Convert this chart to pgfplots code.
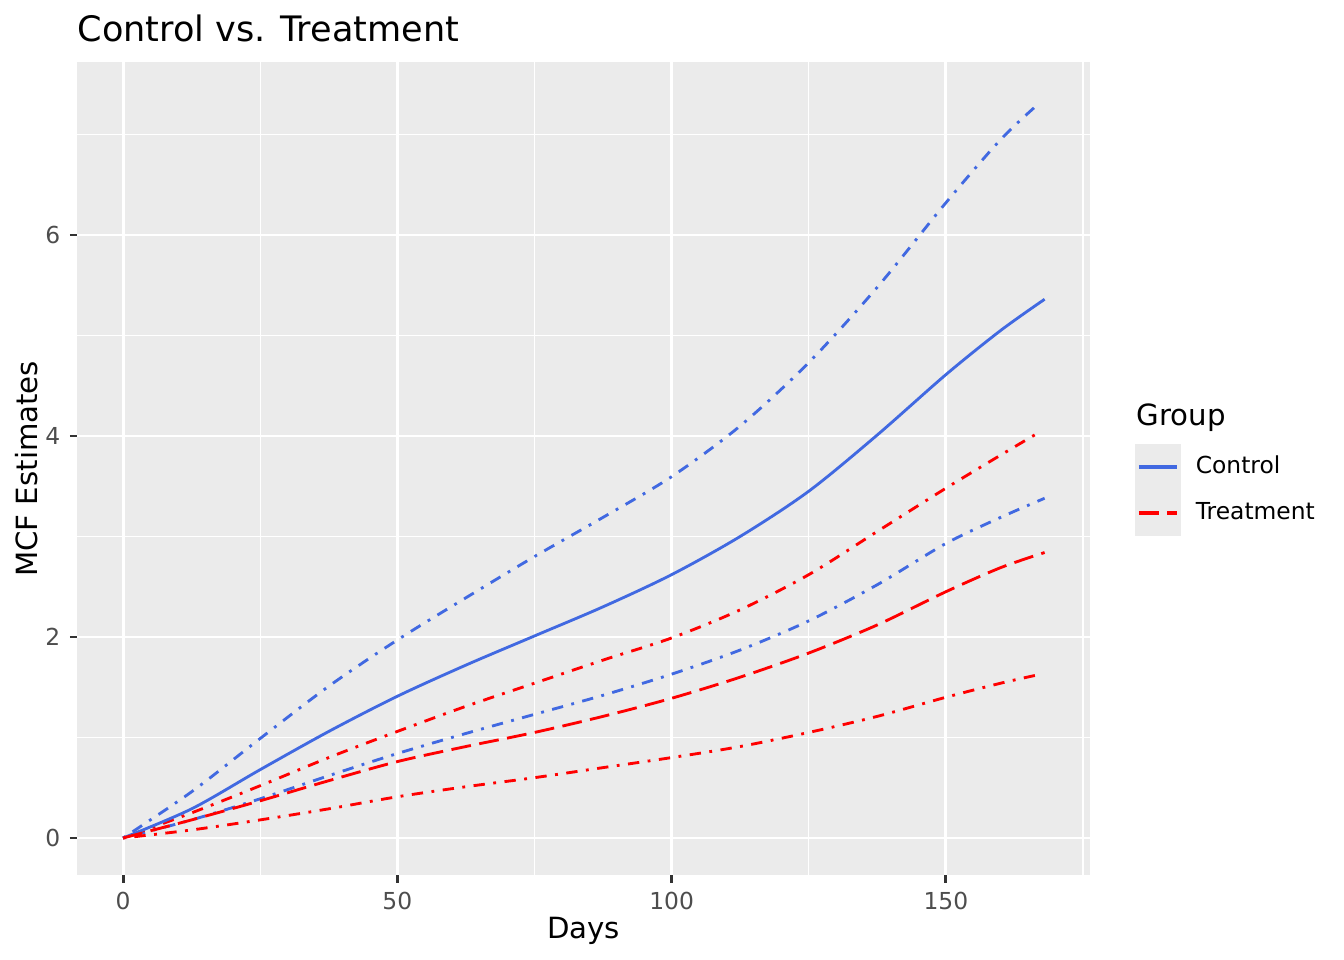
\documentclass[border=0pt]{standalone}
\usepackage{pgfplots}
\pgfplotsset{compat=1.18}
\usepackage{fontspec}
\setmainfont{DejaVu Sans}
\definecolor{ggbg}{HTML}{EBEBEB}
\definecolor{gray30}{HTML}{4D4D4D}
\definecolor{gray20}{HTML}{333333}
\definecolor{ctrl}{HTML}{4169E1}
\definecolor{trt}{HTML}{FF0000}
\tikzset{
  dotdash/.style={dash pattern=on 1.07pt off 3.2pt on 4.27pt off 3.2pt},
  longdash/.style={dash pattern=on 7.47pt off 3.2pt},
}
\begin{document}
\begin{tikzpicture}
\path[use as bounding box] (0,0) rectangle (504bp,360bp);
\begin{axis}[
  at={(28.9bp,31.7bp)}, anchor=south west,
  scale only axis, width=379.9bp, height=305.06bp,
  xmin=-8.39, xmax=176.3, ymin=-0.373, ymax=7.721,
  axis background/.style={fill=ggbg},
  axis line style={draw=none},
  xtick={0,50,100,150}, ytick={0,2,4,6},
  minor xtick={25,75,125,175}, minor ytick={1,3,5,7},
  xtick pos=bottom, ytick pos=left,
  tick align=outside, major tick length=2.75pt, minor tick length=0pt,
  major tick style={color=gray20, line width=1.07pt},
  grid=both,
  major grid style={color=white, line width=1.07pt},
  minor grid style={color=white, line width=0.53pt},
  tick label style={font=\fontsize{8.8}{10}\selectfont, color=gray30},
  /pgf/number format/assume math mode=true,
  legend style={at={(rel axis cs:1.0442,0.5304)}, anchor=north west, draw=none, fill=none,
    inner sep=0pt, outer sep=0pt, row sep=0pt, column sep=5.6bp,
    font=\fontsize{8.8}{10}\selectfont, nodes={inner sep=0pt}},
  legend cell align=left,
  legend image code/.code={
    \path[fill=ggbg, draw=none] (0,-8.625bp) rectangle (17.25bp,8.625bp);
    \path[draw, line width=1.4pt] (1.5bp,0) -- (15.75bp,0);
  },
]
% Control CI upper
\addplot[ctrl, line width=1.07pt, dotdash, smooth, forget plot] coordinates {
(0,0) (12.5,0.46) (25,0.99) (37.5,1.51) (50,1.97) (62.5,2.39) (75,2.80) (87.5,3.19)
(100,3.595) (112.5,4.10) (125,4.73) (137.5,5.48) (150,6.32) (160,6.95) (167,7.31)};
% Control CI lower
\addplot[ctrl, line width=1.07pt, dotdash, smooth, forget plot] coordinates {
(0,0) (12.5,0.18) (25,0.39) (37.5,0.62) (50,0.84) (62.5,1.04) (75,1.23) (87.5,1.42)
(100,1.63) (112.5,1.87) (125,2.16) (137.5,2.52) (150,2.93) (160,3.19) (168,3.38)};
% Treatment CI upper
\addplot[trt, line width=1.07pt, dotdash, smooth, forget plot] coordinates {
(0,0) (12.5,0.25) (25,0.52) (37.5,0.80) (50,1.06) (62.5,1.31) (75,1.54) (87.5,1.77)
(100,1.99) (112.5,2.27) (125,2.62) (137.5,3.05) (150,3.48) (160,3.81) (166.5,4.02)};
% Treatment CI lower
\addplot[trt, line width=1.07pt, dotdash, smooth, forget plot] coordinates {
(0,0) (12.5,0.08) (25,0.18) (37.5,0.29) (50,0.41) (62.5,0.51) (75,0.60) (87.5,0.70)
(100,0.80) (112.5,0.91) (125,1.05) (137.5,1.21) (150,1.40) (160,1.54) (166.5,1.62)};
% Control MCF
\addplot[ctrl, line width=1.07pt, solid, smooth] coordinates {
(0,0) (12.5,0.29) (25,0.68) (37.5,1.06) (50,1.41) (62.5,1.72) (75,2.01) (87.5,2.30)
(100,2.62) (112.5,3.00) (125,3.45) (137.5,4.01) (150,4.61) (160,5.05) (168,5.36)};
\addlegendentry{Control}
% Treatment MCF
\addplot[trt, line width=1.07pt, longdash, smooth] coordinates {
(0,0) (12.5,0.18) (25,0.37) (37.5,0.57) (50,0.76) (62.5,0.91) (75,1.05) (87.5,1.21)
(100,1.39) (112.5,1.60) (125,1.84) (137.5,2.12) (150,2.45) (160,2.69) (168,2.84)};
\addlegendentry{Treatment}
\end{axis}
\node[anchor=base west, font=\fontsize{13.2}{15}\selectfont, inner sep=0pt] at (28.9bp,344.6bp) {Control vs. Treatment};
\node[anchor=base, font=\fontsize{11}{13}\selectfont, inner sep=0pt] at (218.9bp,8.25bp) {Days};
\node[anchor=base, rotate=90, font=\fontsize{11}{13}\selectfont, inner sep=0pt] at (13.9bp,184.2bp) {MCF Estimates};
\node[anchor=base west, font=\fontsize{11}{13}\selectfont, inner sep=0pt] at (426bp,200.4bp) {Group};
\end{tikzpicture}
\end{document}
